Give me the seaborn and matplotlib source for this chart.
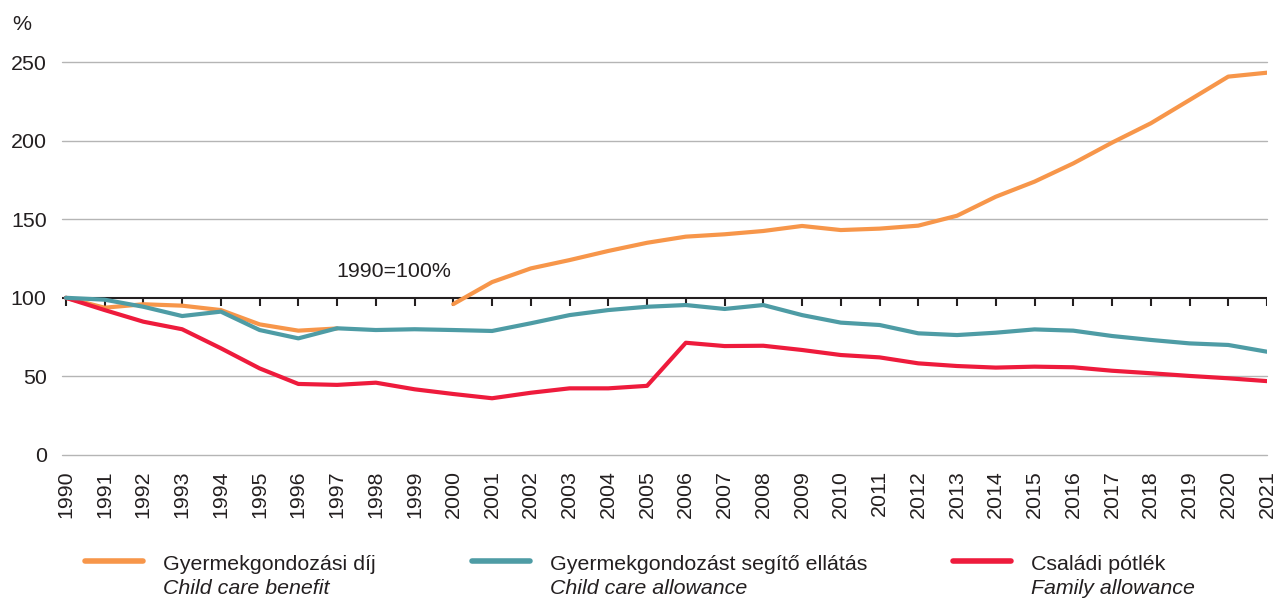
import matplotlib
matplotlib.use("Agg")
import matplotlib.pyplot as plt
from matplotlib.lines import Line2D
import seaborn as sns
import pandas as pd

# Values (1990 = 100%)
years = list(range(1990, 2022))

child_care_benefit_years_a = list(range(1990, 1998))
child_care_benefit_a = [100, 93.7, 95.9, 95.0, 92.2, 83.1, 79.1, 80.5]
child_care_benefit_years_b = list(range(2000, 2022))
child_care_benefit_b = [96.0, 110.0, 118.7, 124.0, 129.8, 135.0, 138.9, 140.4, 142.5, 145.7,
                        143.1, 144.0, 145.9, 152.2, 164.3, 173.9, 185.5, 198.7, 211.0, 225.8,
                        240.7, 243.2]

child_care_allowance = [100, 98.8, 94.3, 88.4, 91.2, 79.5, 74.2, 80.6, 79.5, 80.0,
                        79.5, 78.9, 83.8, 89.0, 92.2, 94.3, 95.4, 92.9, 95.4, 89.0,
                        84.2, 82.7, 77.4, 76.3, 77.8, 79.9, 79.1, 75.7, 73.2, 71.0,
                        70.0, 65.7]

family_allowance = [100, 92.2, 84.8, 80.0, 67.9, 55.1, 45.2, 44.6, 46.0, 41.8,
                    38.8, 36.1, 39.6, 42.4, 42.4, 44.0, 71.4, 69.3, 69.5, 66.8,
                    63.6, 62.1, 58.3, 56.6, 55.6, 56.2, 55.8, 53.6, 52.0, 50.3,
                    48.8, 47.0]

series_hu = ["Gyermekgondozási díj", "Gyermekgondozást segítő ellátás", "Családi pótlék"]
series_en = ["Child care benefit", "Child care allowance", "Family allowance"]
colors = ["#F7964A", "#4E9CA5", "#EE1B3C"]
y_ticks = [0, 50, 100, 150, 200, 250]

sns.set_style("white")
plt.rcParams["font.family"] = ["Liberation Sans", "DejaVu Sans"]
text_color = "#231F20"
fs = 15.4

fig = plt.figure(figsize=(12.74, 5.99), dpi=100)
ax = fig.add_axes([62 / 1274, 1 - 455 / 599, 1205 / 1274, 393 / 599])

# gridlines (100 is the black base line)
for v in y_ticks:
    if v == 100:
        continue
    ax.axhline(v, color="#B5B5B5", lw=1.0, zorder=0, clip_on=False)
ax.axhline(100, color="#231F20", lw=1.5, zorder=1)
ax.vlines(years, 95, 100, color="#231F20", lw=1.5, zorder=1)

lw = 3.0
df_a = pd.DataFrame({"year": child_care_benefit_years_a, "value": child_care_benefit_a})
df_b = pd.DataFrame({"year": child_care_benefit_years_b, "value": child_care_benefit_b})
df_c = pd.DataFrame({"year": years, "value": child_care_allowance})
df_f = pd.DataFrame({"year": years, "value": family_allowance})

sns.lineplot(data=df_f, x="year", y="value", color=colors[2], lw=lw, ax=ax, zorder=3)
sns.lineplot(data=df_c, x="year", y="value", color=colors[1], lw=lw, ax=ax, zorder=4)
sns.lineplot(data=df_a, x="year", y="value", color=colors[0], lw=lw, ax=ax, zorder=2)
sns.lineplot(data=df_b, x="year", y="value", color=colors[0], lw=lw, ax=ax, zorder=5)
for ln in ax.lines:
    ln.set_solid_capstyle("round")
    ln.set_solid_joinstyle("round")

ax.set_xlim(1989.9, 2021.0)
ax.set_ylim(0, 250)
ax.set_xlabel("")
ax.set_ylabel("")
ax.set_xticks(years)
ax.set_xticklabels([str(y) for y in years], rotation=90, fontsize=fs, color=text_color)
ax.set_yticks(y_ticks)
ax.set_yticklabels([str(v) for v in y_ticks], fontsize=fs, color=text_color)
ax.tick_params(axis="x", length=0, pad=11)
ax.tick_params(axis="y", length=0, pad=11)
for s in ax.spines.values():
    s.set_visible(False)

ax.text(1999.95, 111, "1990=100%", ha="right", va="bottom", fontsize=fs, color=text_color)
fig.text(12 / 1274, 1 - 24 / 599, "%", fontsize=fs, color=text_color, va="center")

# legend
handle_x = [85, 472, 953]
for hx, hu, en, c in zip(handle_x, series_hu, series_en, colors):
    fig.add_artist(Line2D([hx / 1274, (hx + 58) / 1274], [1 - 561 / 599] * 2,
                          color=c, lw=4, solid_capstyle="round"))
    fig.text((hx + 78) / 1274, 1 - 564 / 599, hu, fontsize=fs, color=text_color, va="center")
    fig.text((hx + 78) / 1274, 1 - 588 / 599, en, fontsize=fs, color=text_color,
             va="center", style="italic")

fig.savefig("out.png", dpi=100)
